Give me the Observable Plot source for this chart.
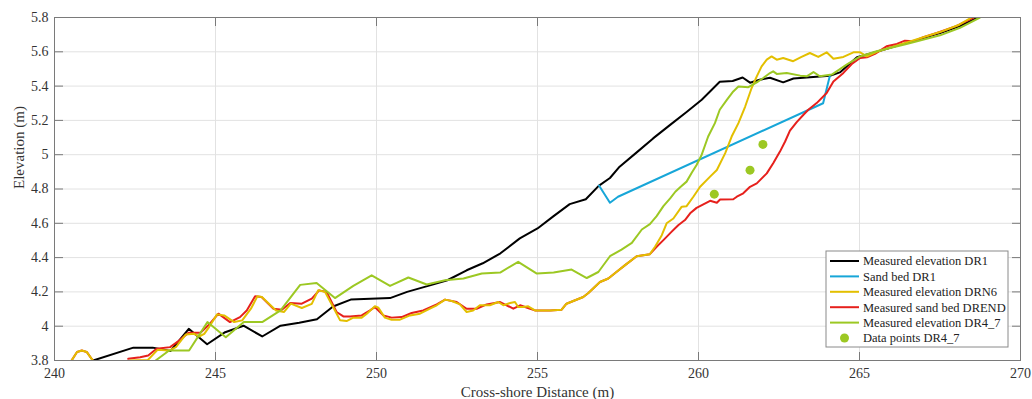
<!DOCTYPE html>
<html>
<head>
<meta charset="utf-8">
<script src="https://cdn.jsdelivr.net/npm/d3@7"></script>
<script src="https://cdn.jsdelivr.net/npm/@observablehq/plot@0.6"></script>
<style>
  html, body { margin: 0; padding: 0; background: #fff; }
  #chart { width: 1032px; height: 399px; }
</style>
</head>
<body>
<div id="chart"></div>
<script>
// ---- Tick values ----
const xTicks = [240, 245, 250, 255, 260, 265, 270];
const yTicks = [3.8, 4.0, 4.2, 4.4, 4.6, 4.8, 5.0, 5.2, 5.4, 5.6, 5.8];
const yTickLabels = ["3.8", "4", "4.2", "4.4", "4.6", "4.8", "5", "5.2", "5.4", "5.6", "5.8"];

// ---- Series names ----
const seriesNames = [
  "Measured elevation DR1",
  "Sand bed DR1",
  "Measured elevation DRN6",
  "Measured sand bed DREND",
  "Measured elevation DR4_7",
  "Data points DR4_7"
];
const seriesColors = ["#000000", "#17a6d8", "#e3bf00", "#e6201c", "#9cc823", "#9cc823"];

// ---- Measured elevation DR1 (black) ----
const dr1X = [241.2, 242.45, 243.05, 243.6, 244.17, 244.74, 245.3, 245.87, 246.45, 247.02, 247.6, 248.15, 248.65, 249.2, 250.42, 250.95, 251.66, 252.2, 252.8, 253.3, 253.85, 254.45, 255.0, 255.5, 256.0, 256.5, 256.9, 257.25, 257.55, 258.09, 258.59, 259.12, 259.64, 260.1, 260.35, 260.66, 261.06, 261.37, 261.6, 261.9, 262.22, 262.63, 262.95, 263.46, 264.08, 264.39, 264.92, 265.54, 266.47, 267.5, 268.1, 268.68];
const dr1Y = [3.8, 3.875, 3.875, 3.855, 3.985, 3.895, 3.965, 4.003, 3.94, 4.003, 4.02, 4.04, 4.115, 4.155, 4.164, 4.2, 4.238, 4.268, 4.326, 4.367, 4.425, 4.512, 4.57, 4.642, 4.712, 4.74, 4.818, 4.864, 4.93, 5.015, 5.095, 5.174, 5.25, 5.32, 5.367, 5.425, 5.43, 5.45, 5.42, 5.437, 5.449, 5.422, 5.444, 5.451, 5.46, 5.48, 5.568, 5.6, 5.652, 5.71, 5.749, 5.8];

// ---- Sand bed DR1 (blue) ----
const sandX = [256.91, 257.25, 257.5, 263.87, 264.08];
const sandY = [4.82, 4.72, 4.755, 5.3, 5.46];

// ---- Measured elevation DRN6 (yellow) ----
const drn6X = [240.53, 240.7, 240.85, 241.0, 241.19, 241.7, 242.35, 242.9, 243.2, 243.56, 243.77, 244.08, 244.33, 244.49, 244.65, 244.8, 245.05, 245.27, 245.58, 245.83, 246.1, 246.3, 246.44, 246.88, 247.13, 247.34, 247.68, 247.99, 248.19, 248.4, 248.71, 248.87, 249.07, 249.28, 249.54, 249.7, 249.95, 250.06, 250.26, 250.47, 250.73, 251.04, 251.35, 251.66, 251.87, 252.13, 252.34, 252.59, 252.8, 253.0, 253.21, 253.52, 253.78, 253.94, 254.15, 254.3, 254.4, 254.56, 254.71, 254.92, 255.39, 255.75, 255.9, 256.42, 256.58, 256.94, 257.2, 257.46, 257.72, 258.08, 258.49, 258.65, 258.86, 259.01, 259.22, 259.48, 259.63, 259.84, 260.05, 260.36, 260.57, 260.83, 261.03, 261.24, 261.45, 261.65, 261.81, 261.96, 262.12, 262.27, 262.43, 262.63, 262.94, 263.2, 263.46, 263.72, 263.98, 264.19, 264.5, 264.81, 265.02, 265.23, 265.54, 266.47, 267.5, 268.1, 268.48];
const drn6Y = [3.8, 3.85, 3.858, 3.85, 3.8, null, 3.8, 3.803, 3.862, 3.858, 3.878, 3.952, 3.956, 3.94, 3.955, 3.995, 4.069, 4.063, 4.024, 4.034, 4.102, 4.174, 4.17, 4.092, 4.083, 4.132, 4.106, 4.13, 4.21, 4.2, 4.092, 4.034, 4.03, 4.05, 4.05, 4.073, 4.116, 4.108, 4.05, 4.038, 4.038, 4.063, 4.073, 4.102, 4.122, 4.155, 4.147, 4.127, 4.083, 4.092, 4.122, 4.122, 4.141, 4.122, 4.135, 4.141, 4.112, 4.112, 4.116, 4.092, 4.092, 4.096, 4.131, 4.17, 4.194, 4.258, 4.278, 4.317, 4.356, 4.408, 4.42, 4.463, 4.531, 4.6, 4.628, 4.697, 4.7, 4.755, 4.813, 4.872, 4.911, 5.009, 5.106, 5.184, 5.281, 5.389, 5.457, 5.515, 5.554, 5.573, 5.554, 5.564, 5.545, 5.57, 5.593, 5.57, 5.597, 5.559, 5.57, 5.597, 5.597, 5.573, 5.6, 5.655, 5.715, 5.758, 5.8];

// ---- Measured sand bed DREND (red) ----
const drendX = [240.53, 240.7, 240.85, 241.0, 241.19, 241.7, 242.29, 242.66, 242.91, 243.17, 243.59, 243.85, 244.16, 244.53, 244.78, 245.09, 245.45, 245.76, 245.97, 246.23, 246.43, 246.8, 247.06, 247.32, 247.68, 247.99, 248.22, 248.45, 248.76, 248.97, 249.18, 249.54, 249.8, 249.95, 250.21, 250.47, 250.78, 251.09, 251.45, 251.87, 252.13, 252.49, 252.8, 253.11, 253.42, 253.84, 254.04, 254.25, 254.46, 254.77, 254.92, 255.39, 255.75, 255.9, 256.42, 256.58, 256.94, 257.2, 257.46, 257.72, 258.08, 258.49, 258.7, 258.91, 259.16, 259.37, 259.58, 259.74, 259.94, 260.15, 260.36, 260.57, 260.67, 261.08, 261.19, 261.39, 261.6, 261.81, 262.12, 262.32, 262.53, 262.69, 262.84, 263.05, 263.26, 263.41, 263.67, 263.98, 264.19, 264.5, 264.76, 265.02, 265.23, 265.48, 265.84, 266.16, 266.41, 266.67, 266.98, 267.4, 268.0, 268.55];
const drendY = [3.8, 3.85, 3.858, 3.85, 3.8, null, 3.81, 3.819, 3.829, 3.868, 3.878, 3.913, 3.962, 3.962, 4.005, 4.073, 4.024, 4.053, 4.092, 4.174, 4.17, 4.102, 4.096, 4.135, 4.131, 4.161, 4.209, 4.199, 4.083, 4.057, 4.057, 4.063, 4.092, 4.112, 4.063, 4.05, 4.053, 4.077, 4.092, 4.127, 4.155, 4.141, 4.102, 4.102, 4.127, 4.141, 4.122, 4.102, 4.122, 4.102, 4.092, 4.092, 4.096, 4.131, 4.17, 4.194, 4.258, 4.278, 4.317, 4.356, 4.408, 4.42, 4.463, 4.502, 4.55, 4.589, 4.619, 4.658, 4.69, 4.71, 4.731, 4.72, 4.739, 4.74, 4.755, 4.775, 4.813, 4.833, 4.891, 4.95, 5.018, 5.077, 5.14, 5.19, 5.233, 5.262, 5.301, 5.36, 5.427, 5.477, 5.529, 5.564, 5.568, 5.588, 5.632, 5.646, 5.665, 5.661, 5.685, 5.71, 5.75, 5.8];

// ---- Measured elevation DR4_7 (green) ----
const dr47X = [243.14, 243.56, 244.18, 244.75, 245.32, 245.88, 246.45, 247.02, 247.63, 248.14, 248.71, 249.28, 249.85, 250.42, 250.99, 251.56, 252.13, 252.7, 253.27, 253.84, 254.4, 254.98, 255.5, 256.06, 256.53, 256.89, 257.25, 257.61, 257.93, 258.24, 258.49, 258.7, 258.91, 259.12, 259.28, 259.43, 259.63, 259.79, 259.94, 260.1, 260.3, 260.51, 260.66, 260.88, 261.08, 261.24, 261.55, 261.81, 262.01, 262.22, 262.32, 262.43, 262.74, 263.16, 263.36, 263.57, 263.77, 264.14, 264.6, 265.02, 265.53, 266.46, 267.5, 268.12, 268.74];
const dr47Y = [3.8, 3.858, 3.858, 4.024, 3.936, 4.024, 4.024, 4.092, 4.241, 4.252, 4.164, 4.235, 4.297, 4.235, 4.284, 4.243, 4.268, 4.278, 4.307, 4.313, 4.375, 4.307, 4.313, 4.33, 4.281, 4.316, 4.408, 4.447, 4.486, 4.564, 4.595, 4.642, 4.7, 4.745, 4.784, 4.81, 4.843, 4.895, 4.94, 5.0, 5.106, 5.184, 5.262, 5.32, 5.369, 5.398, 5.394, 5.422, 5.447, 5.476, 5.486, 5.471, 5.476, 5.461, 5.457, 5.482, 5.457, 5.467, 5.525, 5.573, 5.603, 5.646, 5.696, 5.74, 5.8];

// ---- Data points DR4_7 (green dots) ----
const ptsX = [260.49, 261.6, 262.0];
const ptsY = [4.77, 4.91, 5.06];

// Build tables
const toRows = (xs, ys) => xs.map((x, i) => ({x, y: ys[i]}));
const dr1 = toRows(dr1X, dr1Y);
const sand = toRows(sandX, sandY);
const drn6 = toRows(drn6X, drn6Y);
const drend = toRows(drendX, drendY);
const dr47 = toRows(dr47X, dr47Y);
const pts = toRows(ptsX, ptsY);

const FONT = "'Liberation Serif', 'DejaVu Serif', serif";
const lineOpts = (c) => ({x: "x", y: "y", stroke: c, strokeWidth: 2, strokeLinejoin: "round", clip: true});

const chart = Plot.plot({
  width: 1032,
  height: 399,
  marginLeft: 54,
  marginRight: 12,
  marginTop: 17,
  marginBottom: 39,
  style: {fontFamily: FONT, fontSize: "14px", color: "#333", background: "#fff", overflow: "visible"},
  x: {domain: [240, 270], label: null},
  y: {domain: [3.8, 5.8], label: null},
  marks: [
    Plot.gridX(xTicks, {stroke: "#e2e2e2", strokeOpacity: 1, strokeWidth: 1}),
    Plot.gridY(yTicks, {stroke: "#e2e2e2", strokeOpacity: 1, strokeWidth: 1}),
    Plot.line(dr1, lineOpts(seriesColors[0])),
    Plot.line(sand, lineOpts(seriesColors[1])),
    Plot.line(drend, lineOpts(seriesColors[3])),
    Plot.line(drn6, lineOpts(seriesColors[2])),
    Plot.line(dr47, lineOpts(seriesColors[4])),
    Plot.dot(pts, {x: "x", y: "y", r: 4.5, fill: seriesColors[5], stroke: "none", clip: true}),
    Plot.frame({stroke: "#7a7a7a", strokeWidth: 1}),
    Plot.axisX(xTicks, {anchor: "bottom", tickSize: -8, tickPadding: 16, stroke: "#7a7a7a", fill: "#333", fontSize: 14, label: null}),
    Plot.axisX(xTicks, {anchor: "top", tickSize: -8, tickFormat: () => "", stroke: "#7a7a7a", label: null}),
    Plot.axisY(yTicks, {anchor: "left", tickSize: -9, tickPadding: 15, stroke: "#7a7a7a", fill: "#333", fontSize: 14, label: null,
      tickFormat: (d) => yTickLabels[yTicks.findIndex(t => Math.abs(t - d) < 1e-9)]}),
    Plot.axisY(yTicks, {anchor: "right", tickSize: -9, tickFormat: () => "", stroke: "#7a7a7a", label: null}),
    Plot.text(["Cross-shore Distance (m)"], {frameAnchor: "bottom", dy: 36, fontSize: 15, fill: "#333", fontFamily: FONT}),
    Plot.text(["Elevation (m)"], {frameAnchor: "left", rotate: -90, dx: -35, fontSize: 15, fill: "#333", fontFamily: FONT})
  ]
});

document.getElementById("chart").appendChild(chart);

// ---- Legend inside the plot (bottom-right) ----
const svg = d3.select(chart);
const lg = svg.append("g").attr("font-family", FONT).attr("font-size", 12.5).attr("text-anchor", "start");
const lx = 826, ly = 251, lw = 182, lh = 96;
lg.append("rect").attr("x", lx).attr("y", ly).attr("width", lw).attr("height", lh)
  .attr("fill", "#fff").attr("stroke", "#8a8a8a").attr("stroke-width", 1);
seriesNames.forEach((name, i) => {
  const cy = ly + 10 + i * 15.4;
  if (i < 5) {
    lg.append("line").attr("x1", lx + 4).attr("x2", lx + 33).attr("y1", cy).attr("y2", cy)
      .attr("stroke", seriesColors[i]).attr("stroke-width", 2);
  } else {
    lg.append("circle").attr("cx", lx + 18.5).attr("cy", cy).attr("r", 4.5).attr("fill", seriesColors[i]);
  }
  lg.append("text").attr("x", lx + 37).attr("y", cy).attr("dy", "0.35em")
    .attr("text-anchor", "start").attr("fill", "#222").text(name);
});
</script>
</body>
</html>
